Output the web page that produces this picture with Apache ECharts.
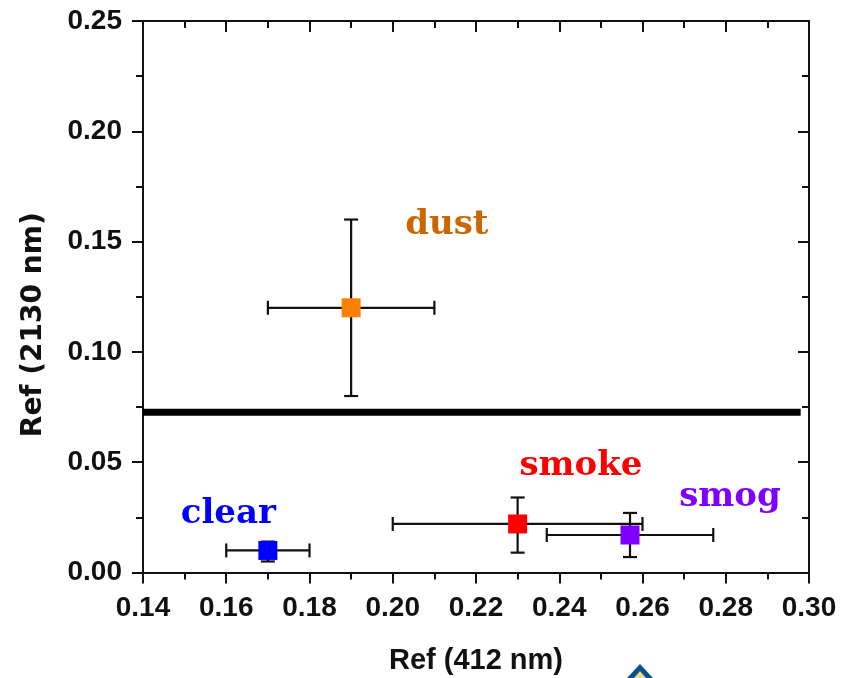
<!DOCTYPE html>
<html>
<head>
<meta charset="utf-8">
<script src="https://cdn.jsdelivr.net/npm/echarts@6/dist/echarts.min.js"></script>
<style>html,body{margin:0;padding:0;background:#fff;}#c{width:852px;height:678px;}</style>
</head>
<body>
<div id="c"></div>
<script>
// ---- data ----
var categories = ['clear', 'dust', 'smoke', 'smog'];
var ref412 = [0.170, 0.190, 0.230, 0.257];
var ref2130 = [0.010, 0.120, 0.022, 0.017];
var xErrLow = [0.160, 0.170, 0.200, 0.237];
var xErrHigh = [0.180, 0.210, 0.260, 0.277];
var yErrLow = [0.005, 0.080, 0.009, 0.007];
var yErrHigh = [0.014, 0.160, 0.034, 0.027];
var markerColors = ['#0000ff', '#ff8000', '#ff0000', '#8000ff'];
var labelColors = ['#0000ff', '#cc6600', '#ff0000', '#7f00ff'];
var labelX = [0.1605, 0.2130, 0.2452, 0.2810];
var labelY = [0.0265, 0.1575, 0.0483, 0.0342];
var thresholdX = [0.14, 0.298];
var thresholdY = 0.0726;
var xTicks = [0.14, 0.16, 0.18, 0.20, 0.22, 0.24, 0.26, 0.28, 0.30];
var yTicks = [0.00, 0.05, 0.10, 0.15, 0.20, 0.25];

var chart = echarts.init(document.getElementById('c'));

var errData = categories.map(function (c, i) {
  return [ref412[i], ref2130[i], xErrLow[i], xErrHigh[i], yErrLow[i], yErrHigh[i]];
});
var pointData = categories.map(function (c, i) {
  return { value: [ref412[i], ref2130[i]], itemStyle: { color: markerColors[i], opacity: 1 } };
});
var labelData = categories.map(function (c, i) {
  return { value: [labelX[i], labelY[i]], name: c,
    label: { color: labelColors[i] } };
});

var tickFont = { fontFamily: 'Liberation Sans, Arial, sans-serif', fontWeight: 'bold', fontSize: 28, color: '#111' };
var lineStyle = { color: '#111', width: 2 };

function baseX(extra) {
  return Object.assign({
    type: 'value', min: xTicks[0], max: xTicks[xTicks.length - 1], interval: 0.02,
    axisLine: { show: true, onZero: false, lineStyle: lineStyle },
    axisTick: { show: true, length: 11, lineStyle: lineStyle },
    minorTick: { show: true, splitNumber: 2, length: 7, lineStyle: lineStyle },
    splitLine: { show: false }
  }, extra);
}
function baseY(extra) {
  return Object.assign({
    type: 'value', min: yTicks[0], max: yTicks[yTicks.length - 1], interval: 0.05,
    axisLine: { show: true, onZero: false, lineStyle: lineStyle },
    axisTick: { show: true, length: 11, lineStyle: lineStyle },
    minorTick: { show: true, splitNumber: 2, length: 7, lineStyle: lineStyle },
    splitLine: { show: false }
  }, extra);
}

var option = {
  animation: false,
  backgroundColor: '#fff',
  grid: { left: 143, right: 43, top: 21, bottom: 105.5, containLabel: false, outerBoundsMode: 'none' },
  xAxis: [
    baseX({
      position: 'bottom',
      name: 'Ref (412 nm)', nameLocation: 'middle', nameGap: 74,
      nameTextStyle: { fontFamily: 'Liberation Sans, Arial, sans-serif', fontWeight: 'bold', fontSize: 29, color: '#111' },
      axisLabel: Object.assign({ margin: 22, formatter: function (v) { return v.toFixed(2); } }, tickFont)
    }),
    baseX({
      position: 'top',
      axisTick: { show: true, inside: true, length: 11, lineStyle: lineStyle },
      minorTick: { show: true, splitNumber: 2, length: 7, lineStyle: lineStyle },
      axisLabel: { show: false }
    })
  ],
  yAxis: [
    baseY({
      position: 'left',
      name: 'Ref (2130 nm)', nameLocation: 'middle', nameGap: 95,
      nameTextStyle: { fontFamily: 'DejaVu Sans, sans-serif', fontWeight: 'bold', fontSize: 28, color: '#111', padding: [0, 56, 0, 0] },
      axisLabel: Object.assign({ margin: 21, formatter: function (v) { return v.toFixed(2); } }, tickFont)
    }),
    baseY({
      position: 'right',
      axisTick: { show: true, inside: true, length: 11, lineStyle: lineStyle },
      minorTick: { show: true, splitNumber: 2, length: 7, lineStyle: lineStyle },
      axisLabel: { show: false }
    })
  ],
  series: [
    {
      type: 'line', xAxisIndex: 0, yAxisIndex: 0, symbol: 'none', silent: true,
      data: [[thresholdX[0], thresholdY], [thresholdX[1], thresholdY]],
      lineStyle: { color: '#000', width: 7 }, z: 2
    },
    {
      type: 'custom', xAxisIndex: 0, yAxisIndex: 0, z: 3,
      data: errData,
      renderItem: function (params, api) {
        var cx = api.value(0), cy = api.value(1);
        var xl = api.coord([api.value(2), cy]);
        var xh = api.coord([api.value(3), cy]);
        var yl = api.coord([cx, api.value(4)]);
        var yh = api.coord([cx, api.value(5)]);
        var cap = 7;
        var st = { stroke: '#111', lineWidth: 2.2, fill: null };
        return {
          type: 'group',
          children: [
            { type: 'line', shape: { x1: xl[0], y1: xl[1], x2: xh[0], y2: xh[1] }, style: st },
            { type: 'line', shape: { x1: xl[0], y1: xl[1] - cap, x2: xl[0], y2: xl[1] + cap }, style: st },
            { type: 'line', shape: { x1: xh[0], y1: xh[1] - cap, x2: xh[0], y2: xh[1] + cap }, style: st },
            { type: 'line', shape: { x1: yl[0], y1: yl[1], x2: yh[0], y2: yh[1] }, style: st },
            { type: 'line', shape: { x1: yl[0] - cap, y1: yl[1], x2: yl[0] + cap, y2: yl[1] }, style: st },
            { type: 'line', shape: { x1: yh[0] - cap, y1: yh[1], x2: yh[0] + cap, y2: yh[1] }, style: st }
          ]
        };
      }
    },
    {
      type: 'scatter', xAxisIndex: 0, yAxisIndex: 0, z: 4,
      symbol: 'rect', symbolSize: 19,
      itemStyle: { opacity: 1 },
      data: pointData
    },
    {
      type: 'scatter', xAxisIndex: 0, yAxisIndex: 0, z: 5,
      symbolSize: 1, silent: true,
      itemStyle: { opacity: 0 },
      data: labelData,
      label: {
        show: true, position: 'inside', formatter: '{b}', opacity: 1,
        fontFamily: 'DejaVu Serif, serif', fontWeight: 'bold', fontSize: 34
      }
    }
  ],
  graphic: [
    {
      type: 'polygon', left: 627, top: 664, z: 10,
      shape: { points: [[13, 0], [26, 14], [0, 14]] },
      style: { fill: '#0b4f8f' }
    },
    {
      type: 'polygon', left: 634, top: 671, z: 11,
      shape: { points: [[6, 0], [12, 7], [0, 7]] },
      style: { fill: '#f5d98a' }
    }
  ]
};
chart.setOption(option);
</script>
</body>
</html>
